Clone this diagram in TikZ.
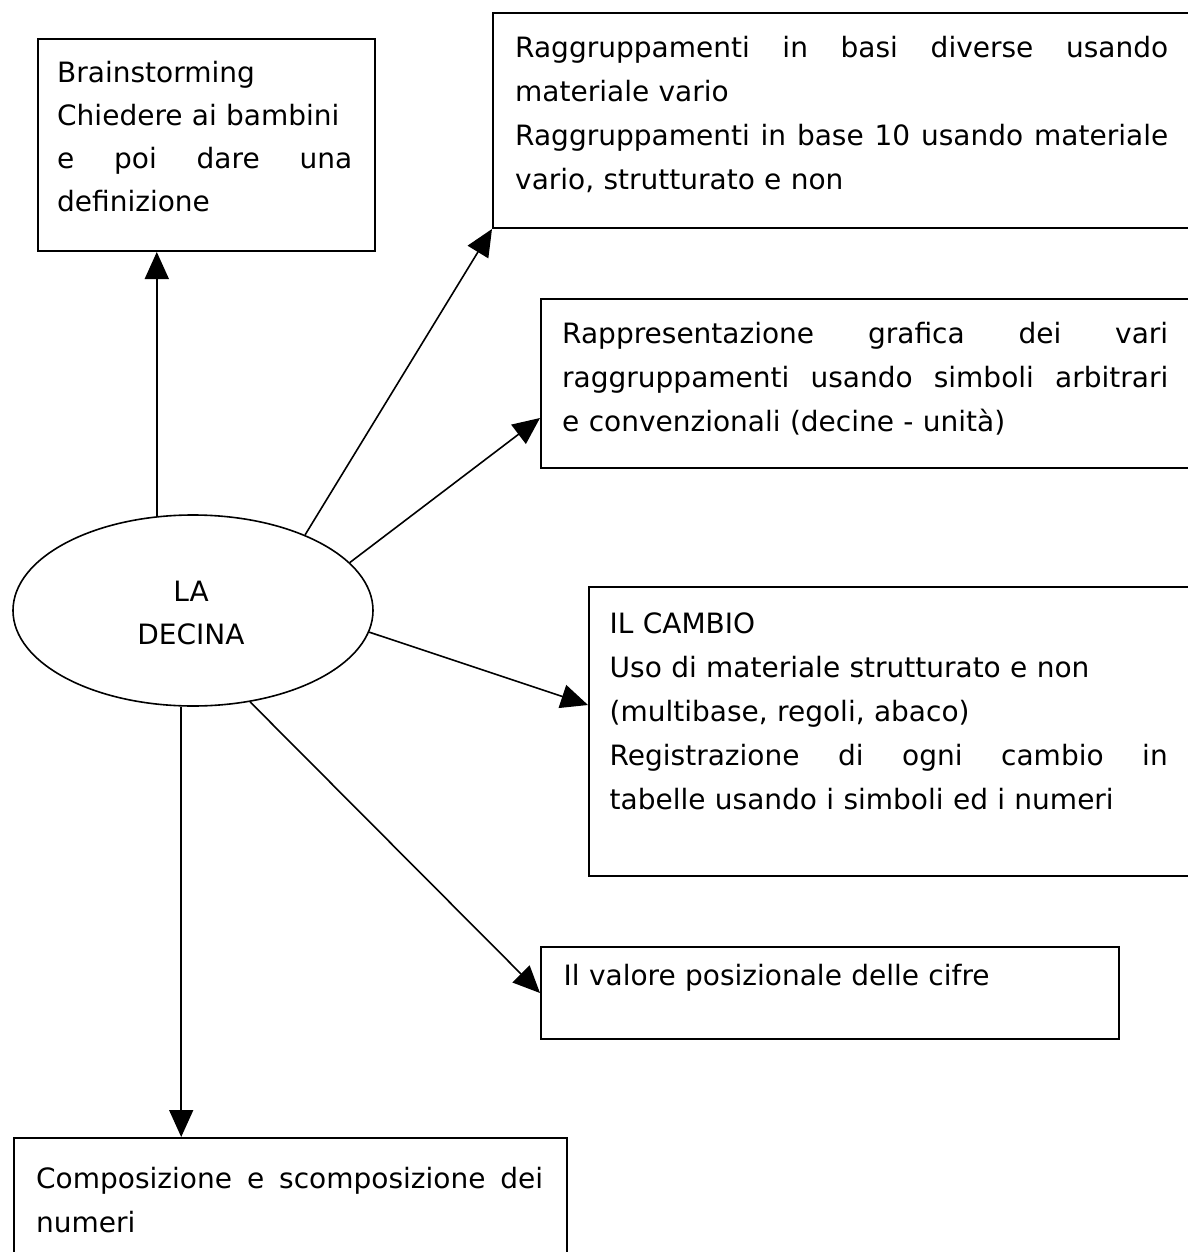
\documentclass[tikz,border=0pt]{standalone}
\usepackage{fontspec}
\setmainfont{DejaVu Sans}
\usetikzlibrary{arrows.meta,shapes.geometric,calc}
\newcommand{\jl}[2]{\makebox[#1][s]{\spaceskip=0pt\xspaceskip=0pt\relax\strut #2}}
\begin{document}
\begin{tikzpicture}[x=1pt,y=-1pt,
  box/.style={draw, line width=2pt, rectangle, inner sep=0pt, anchor=north west},
  txt/.style={anchor=north west, inner sep=0pt, align=left, font=\fontsize{28}{44}\selectfont},
  arr/.style={line width=1.6pt, -{Triangle[length=27pt,width=24pt]}}]
\fill[white] (0,0) rectangle (1187,1252);
\useasboundingbox (0,0) rectangle (1187,1252);

% boxes
\node[box, minimum width=337pt, minimum height=212pt] (b1) at (37,38) {};
\node[box, minimum width=698pt, minimum height=215pt] (b2) at (492,12) {};
\node[box, minimum width=650pt, minimum height=169pt] (b3) at (540,298) {};
\node[box, minimum width=602pt, minimum height=289pt] (b4) at (588,586) {};
\node[box, minimum width=578pt, minimum height=92pt] (b5) at (540,946) {};
\node[box, minimum width=553pt, minimum height=125pt] (b6) at (13,1137) {};

% centre ellipse
\node[ellipse, draw, line width=1.6pt, minimum width=360pt, minimum height=191pt, inner sep=0pt] (dec) at (193,610.5) {};
\node[anchor=north, inner sep=0pt, align=center, font=\fontsize{28}{43}\selectfont] (t0) at (191,571) {\strut LA\\\strut DECINA};

% texts
\node[txt, text width=295pt, font=\fontsize{28}{43}\selectfont] (t1) at (57,52)
  {\strut Brainstorming\\\strut Chiedere ai bambini\\\jl{295pt}{e poi dare una}\\\strut definizione};
\node[txt, text width=653pt] (t2) at (515,26.5)
  {\jl{653pt}{Raggruppamenti in basi diverse usando}\\\strut materiale vario\\\jl{653pt}{Raggruppamenti in base 10 usando materiale}\\\strut vario, strutturato e non};
\node[txt, text width=606pt] (t3) at (562,312)
  {\jl{606pt}{Rappresentazione grafica dei vari}\\\jl{606pt}{raggruppamenti usando simboli arbitrari}\\\strut e convenzionali (decine - unità)};
\node[txt, text width=558pt] (t4) at (609.5,602)
  {\strut IL CAMBIO\\\strut Uso di materiale strutturato e non\\\strut (multibase, regoli, abaco)\\\jl{558pt}{Registrazione di ogni cambio in}\\\strut tabelle usando i simboli ed i numeri};
\node[txt, text width=540pt] (t5) at (563.5,954)
  {\strut Il valore posizionale delle cifre};
\node[txt, text width=507pt] (t6) at (36,1157)
  {\jl{507pt}{Composizione e scomposizione dei}\\\strut numeri};

% connector end points
\coordinate (e3) at (540,418);
\coordinate (e4) at (588,705);

% connectors
\draw[arr] (dec.111) -- (dec.111 |- b1.south);
\draw[arr] (dec.34) -- (b2.south west);
\draw[arr] (dec.17) -- (e3);
\draw[arr] (dec.-7.7) -- (e4);
\draw[arr] (dec.-58) -- (b5.west);
\draw[arr] (dec.-97) -- (dec.-97 |- b6.north);
\end{tikzpicture}
\end{document}
